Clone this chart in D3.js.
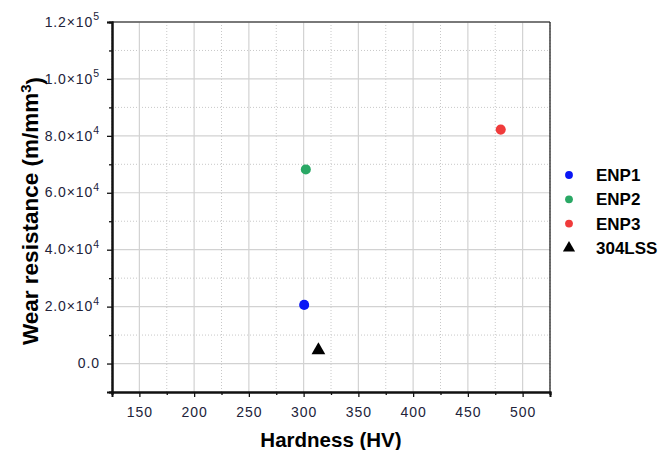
<!DOCTYPE html>
<html lang="en">
<head>
<meta charset="UTF-8">
<title>Wear resistance vs hardness</title>
<script src="https://d3js.org/d3.v7.min.js"></script>
<style>
  body { margin: 0; background: #fff; }
  svg { font-family: "Liberation Sans", Arial, sans-serif; }
</style>
</head>
<body>
<script>
// series: hardness (HV), wear resistance (m/mm^3)
const seriesNames = ["ENP1", "ENP2", "ENP3", "304LSS"];
const hardness = [300.5, 302, 480, 313.5];
const wearResistance = [20600, 68200, 82200, 4700];
const seriesColors = ["#0a17f5", "#2aa865", "#f03b3b", "#000000"];
const seriesShapes = ["circle", "circle", "circle", "triangle"];

const xTicks = [150, 200, 250, 300, 350, 400, 450, 500];
const yTicks = [0, 20000, 40000, 60000, 80000, 100000, 120000];

const width = 664, height = 450;
const margin = {left: 112, top: 22, right: 114, bottom: 58};
const pw = width - margin.left - margin.right;
const ph = height - margin.top - margin.bottom;

const x = d3.scaleLinear().domain([125, 525]).range([0, pw]);
const y = d3.scaleLinear().domain([-10000, 120000]).range([ph, 0]);

const svg = d3.select("body").append("svg")
    .attr("width", width)
    .attr("height", height);

const g = svg.append("g").attr("transform", `translate(${margin.left},${margin.top})`);

// minor grid (dotted)
const xMinor = d3.range(125, 526, 25).filter(v => v % 50 !== 0);
const yMinor = d3.range(-10000, 120001, 10000).filter(v => v % 20000 !== 0);

g.append("g").selectAll("line").data(xMinor).join("line")
    .attr("x1", d => x(d)).attr("x2", d => x(d))
    .attr("y1", 0).attr("y2", ph)
    .attr("stroke", "#c8c8c8").attr("stroke-dasharray", "1,2");
g.append("g").selectAll("line").data(yMinor.filter(v => v > -10000)).join("line")
    .attr("y1", d => y(d)).attr("y2", d => y(d))
    .attr("x1", 0).attr("x2", pw)
    .attr("stroke", "#c8c8c8").attr("stroke-dasharray", "1,2");

// major grid
g.append("g").selectAll("line").data(xTicks).join("line")
    .attr("x1", d => x(d)).attr("x2", d => x(d))
    .attr("y1", 0).attr("y2", ph)
    .attr("stroke", "#d2d2d2").attr("stroke-width", 1.2);
g.append("g").selectAll("line").data(yTicks).join("line")
    .attr("y1", d => y(d)).attr("y2", d => y(d))
    .attr("x1", 0).attr("x2", pw)
    .attr("stroke", "#d2d2d2").attr("stroke-width", 1.2);

// frame top/right
g.append("line").attr("x1", 0).attr("x2", pw).attr("y1", 0).attr("y2", 0)
    .attr("stroke", "#555").attr("stroke-width", 1.3);
g.append("line").attr("x1", pw).attr("x2", pw).attr("y1", 0).attr("y2", ph)
    .attr("stroke", "#222").attr("stroke-width", 1.3);

// axes
const fmtY = d => {
  if (d === 0) return "0.0";
  const e = Math.floor(Math.log10(d));
  return (d / Math.pow(10, e)).toFixed(1) + "\u00d710|" + e;
};

const xAxis = g.append("g").attr("transform", `translate(0,${ph})`)
    .call(d3.axisBottom(x).tickValues(xTicks).tickSize(5).tickPadding(10).tickFormat(d3.format("d")));
const xAxisMinor = g.append("g").attr("transform", `translate(0,${ph})`)
    .call(d3.axisBottom(x).tickValues(xMinor).tickSize(3).tickFormat(""));
const yAxis = g.append("g")
    .call(d3.axisLeft(y).tickValues(yTicks).tickSize(5).tickPadding(6).tickFormat(""));
const yAxisMinor = g.append("g")
    .call(d3.axisLeft(y).tickValues(yMinor).tickSize(3).tickFormat(""));

[xAxis, xAxisMinor, yAxis, yAxisMinor].forEach(a => {
  a.select(".domain").attr("stroke", "#111").attr("stroke-width", 2);
  a.selectAll(".tick line").attr("stroke", "#111").attr("stroke-width", 1.3);
});
xAxis.selectAll(".tick text").attr("font-size", 14).attr("letter-spacing", 0.9).attr("fill", "#22233a");

// y tick labels with superscripts
yAxis.selectAll(".tick").each(function(d) {
  const t = d3.select(this).append("text")
      .attr("x", -12).attr("dy", "0.3em")
      .attr("text-anchor", "end")
      .attr("font-size", 14).attr("letter-spacing", 0.9).attr("fill", "#22233a");
  const s = fmtY(d).split("|");
  if (s.length === 1) {
    t.text(s[0]);
  } else {
    t.append("tspan").text(s[0]);
    t.append("tspan").attr("dy", "-0.6em").attr("font-size", 10.5).text(s[1]);
  }
});

// data points
const pts = seriesNames.map((n, i) => ({name: n, hx: hardness[i], wr: wearResistance[i], color: seriesColors[i], shape: seriesShapes[i]}));
const sym = s => s === "triangle" ? d3.symbol(d3.symbolTriangle, 82)() : d3.symbol(d3.symbolCircle, 80)();

g.append("g").selectAll("path").data(pts).join("path")
    .attr("transform", d => `translate(${x(d.hx)},${y(d.wr)})`)
    .attr("d", d => sym(d.shape))
    .attr("fill", d => d.color);

// axis titles
svg.append("text")
    .attr("x", margin.left + pw / 2 - 0).attr("y", 447)
    .attr("text-anchor", "middle")
    .attr("font-size", 20.5).attr("font-weight", "bold")
    .text("Hardness (HV)");

const yl = svg.append("text")
    .attr("transform", `translate(38,211) rotate(-90)`)
    .attr("text-anchor", "middle")
    .attr("font-size", 22.5).attr("font-weight", "bold");
yl.append("tspan").text("Wear resistance (m/mm");
yl.append("tspan").attr("dy", "-0.5em").attr("font-size", 15).text("3");
yl.append("tspan").attr("dy", "0.5em").text(")");

// legend
const lg = svg.append("g").attr("transform", "translate(569,175)");
const li = lg.selectAll("g").data(pts).join("g")
    .attr("transform", (d, i) => `translate(0,${i * 24.3})`);
li.append("path")
    .attr("d", d => d.shape === "triangle" ? d3.symbol(d3.symbolTriangle, 64)() : d3.symbol(d3.symbolCircle, 48)())
    .attr("fill", d => d.color);
li.append("text")
    .attr("x", 27).attr("dy", "0.36em")
    .attr("font-size", 17).attr("font-weight", "bold")
    .text(d => d.name);
</script>
</body>
</html>
